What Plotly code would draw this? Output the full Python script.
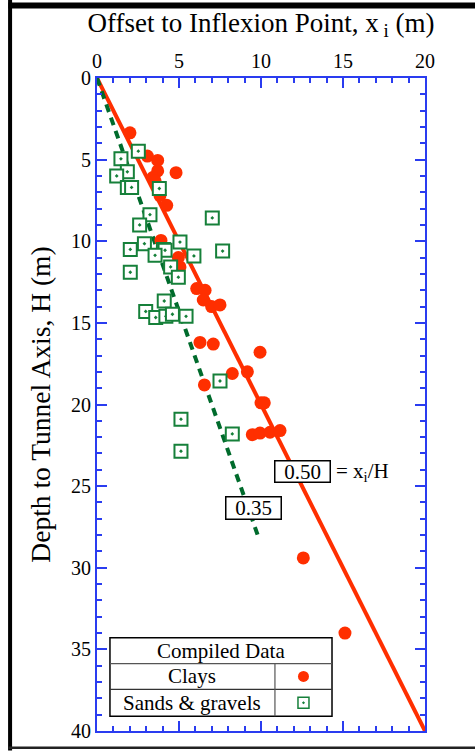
import plotly.graph_objects as go

# Offset to inflexion point x_i (m) and depth to tunnel axis H (m)
clay_x = [2.01, 3.07, 3.70, 3.70, 4.82, 3.40, 3.54, 3.84, 4.25, 3.90, 4.96, 5.06,
          6.08, 6.59, 6.48, 6.99, 7.50, 6.28, 7.09, 9.94, 9.17, 8.25, 6.55,
          10.0, 10.2, 9.47, 9.94, 10.55, 11.16, 12.58, 15.12]
clay_h = [3.36, 4.78, 5.05, 5.69, 5.80, 6.10, 6.30, 7.20, 7.80, 9.95, 11.0, 11.57,
          12.9, 13.0, 13.6, 14.0, 13.9, 16.2, 16.3, 16.8, 18.0, 18.1, 18.8,
          19.9, 19.9, 21.85, 21.75, 21.7, 21.6, 29.4, 34.0]

sand_x = [2.52, 1.46, 1.85, 1.20, 1.85, 2.11, 3.80, 3.23, 7.03, 2.60, 2.89, 5.06,
          2.03, 4.05, 4.15, 3.54, 5.91, 7.66, 4.49, 4.96, 2.03, 4.10, 2.97,
          3.58, 4.20, 4.60, 5.43, 7.50, 5.12, 8.25, 5.12]
sand_h = [4.48, 4.95, 5.75, 6.00, 6.70, 6.70, 6.77, 8.37, 8.57, 9.00, 10.15, 10.05,
          10.5, 10.5, 10.55, 10.86, 10.9, 10.6, 11.57, 12.2, 11.9, 13.66, 14.3,
          14.67, 14.6, 14.47, 14.6, 18.56, 20.9, 21.8, 22.86]

# Trend lines x_i = K * H
clay_ratio = 0.50
clay_line_h = [0, 40]
sand_ratio = 0.35
sand_line_h = [0, 28]

x_ticks = [0, 5, 10, 15, 20]
y_ticks = [0, 5, 10, 15, 20, 25, 30, 35, 40]

RED = "#ff2f00"
GREEN = "#16803a"
DGREEN = "#006b2c"
BLUE = "#2a3cf0"
FONT = "Liberation Serif"

fig = go.Figure()

# Legend table ("Compiled Data"), drawn beneath the key markers
tx0, tx1, tdiv = 0.79, 14.33, 10.85
ty0, ty1, ty2, ty3 = 34.29, 35.87, 37.45, 39.09
fig.add_shape(type="rect", x0=tx0, x1=tx1, y0=ty0, y1=ty3,
              line=dict(color="black", width=1.5), fillcolor="white", layer="below")
fig.add_shape(type="line", x0=tx0, x1=tx1, y0=ty1, y1=ty1,
              line=dict(color="#555555", width=1.2), layer="below")
fig.add_shape(type="line", x0=tx0, x1=tx1, y0=ty2, y1=ty2,
              line=dict(color="#333333", width=1.2), layer="below")
fig.add_shape(type="line", x0=tdiv, x1=tdiv, y0=ty1, y1=ty3,
              line=dict(color="#555555", width=1.2), layer="below")

fig.add_trace(go.Scatter(
    x=[clay_ratio * h for h in clay_line_h], y=clay_line_h, mode="lines",
    line=dict(color=RED, width=4), hoverinfo="skip", showlegend=False))
fig.add_trace(go.Scatter(
    x=[sand_ratio * h for h in sand_line_h], y=sand_line_h, mode="lines",
    line=dict(color=DGREEN, width=4, dash="8px,6px"), hoverinfo="skip", showlegend=False))

fig.add_trace(go.Scatter(
    x=clay_x, y=clay_h, mode="markers", name="Clays",
    marker=dict(symbol="circle", size=13, color=RED), showlegend=False))
fig.add_trace(go.Scatter(
    x=sand_x, y=sand_h, mode="markers", name="Sands & gravels",
    marker=dict(symbol="square-dot", size=13, color="white",
                line=dict(color=GREEN, width=2)), showlegend=False))

key_x = (tdiv + tx1) / 2
fig.add_trace(go.Scatter(
    x=[key_x], y=[(ty1 + ty2) / 2], mode="markers", hoverinfo="skip", showlegend=False,
    marker=dict(symbol="circle", size=11, color=RED)))
fig.add_trace(go.Scatter(
    x=[key_x], y=[(ty2 + ty3) / 2], mode="markers", hoverinfo="skip", showlegend=False,
    marker=dict(symbol="square-dot", size=11, color="white", line=dict(color=GREEN, width=1.5))))

ann_font = dict(family=FONT, size=21, color="black")
fig.add_annotation(x=(tx0 + tx1) / 2, y=(ty0 + ty1) / 2, text="Compiled Data",
                   showarrow=False, font=ann_font)
fig.add_annotation(x=(tx0 + tdiv) / 2, y=(ty1 + ty2) / 2, text="Clays",
                   showarrow=False, font=ann_font)
fig.add_annotation(x=(tx0 + tdiv) / 2, y=(ty2 + ty3) / 2, text="Sands &amp; gravels",
                   showarrow=False, font=ann_font)

# Ratio labels
fig.add_annotation(x=12.56, y=24.13, text=f"{clay_ratio:.2f}", showarrow=False,
                   font=ann_font, bgcolor="white", bordercolor="black", borderwidth=1.5,
                   width=52, height=18, borderpad=1)
fig.add_annotation(x=14.45, y=24.13, text="= x<sub>i</sub>/H", showarrow=False,
                   xanchor="left", font=ann_font)
fig.add_annotation(x=9.57, y=26.32, text=f"{sand_ratio:.2f}", showarrow=False,
                   font=ann_font, bgcolor="white", bordercolor="black", borderwidth=1.5,
                   width=52, height=19, borderpad=1)

# Outer frame
fig.add_shape(type="line", xref="paper", yref="paper", x0=-0.27, x1=1.2, y0=1.111, y1=1.111,
              line=dict(color="black", width=6))
fig.add_shape(type="line", xref="paper", yref="paper", x0=-0.265, x1=-0.265, y0=1.12, y1=-0.03,
              line=dict(color="black", width=4))
fig.add_shape(type="line", xref="paper", yref="paper", x0=-0.27, x1=1.2, y0=-0.0255, y1=-0.0255,
              line=dict(color="#222222", width=2.5))

axis_common = dict(
    showline=True, linecolor=BLUE, linewidth=2, mirror="ticks",
    ticks="inside", ticklen=10, tickwidth=1.5, tickcolor=BLUE,
    showgrid=False, zeroline=False,
    tickfont=dict(family=FONT, size=20, color="black"),
)

fig.update_xaxes(
    range=[0, 20], side="top", tickvals=x_ticks, ticktext=[str(v) for v in x_ticks],
    minor=dict(dtick=1, ticks="inside", ticklen=5, tickwidth=1.5, tickcolor=BLUE),
    title=dict(text="Offset to Inflexion Point, x<sub> i</sub> (m)",
               font=dict(family=FONT, size=27, color="black"), standoff=10),
    **axis_common)
fig.update_yaxes(
    range=[40, 0], tickvals=y_ticks, ticktext=[str(v) for v in y_ticks],
    minor=dict(dtick=1, ticks="inside", ticklen=5, tickwidth=1.5, tickcolor=BLUE),
    title=dict(text="Depth to Tunnel Axis, H (m)",
               font=dict(family=FONT, size=27.5, color="black"), standoff=12),
    **axis_common)

fig.update_layout(
    width=475, height=754,
    margin=dict(l=97, r=50, t=78, b=18),
    paper_bgcolor="white", plot_bgcolor="white",
    font=dict(family=FONT, color="black"),
)

fig.write_html("out.html")
